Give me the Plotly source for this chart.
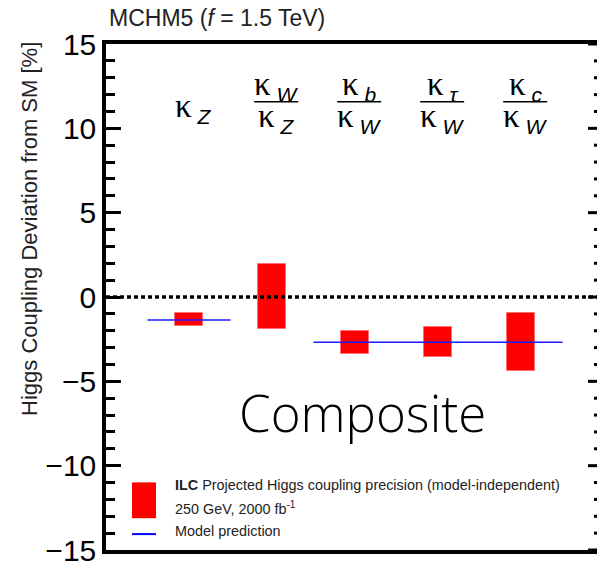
import plotly.graph_objects as go

# ---- data ----
categories = ["kZ", "kW/kZ", "kb/kW", "ktau/kW", "kc/kW"]
numerators = ["Z", "W", "b", "τ", "c"]
denominators = [None, "Z", "W", "W", "W"]
band_low = [-1.73, -1.9, -3.35, -3.53, -4.39]
band_high = [-0.93, 1.95, -2.03, -1.8, -0.93]
model_pred_values = [-1.36, -2.68]
model_pred_spans = [(0.5, 1.5), (2.5, 5.5)]
y_ticks = [-15, -10, -5, 0, 5, 10, 15]

positions = list(range(1, len(categories) + 1))

W, H = 597, 567
ML, MR, MT, MB = 106, 0, 44, 14
PW = W - ML - MR
PH = H - MT - MB
px_per_unit = 83.0
xmax = PW / px_per_unit

def px_x(px):
    return (px - ML) / PW

def px_y(py):
    return (H - MB - py) / PH

fig = go.Figure()

fig.add_trace(go.Bar(
    x=positions,
    y=[h - l for l, h in zip(band_low, band_high)],
    base=band_low,
    width=0.33,
    marker=dict(color="#ff0000", line=dict(color="#ff7070", width=1)),
    showlegend=False,
    hoverinfo="skip",
))

# zero line
fig.add_trace(go.Scatter(
    x=[0, xmax], y=[0, 0], mode="lines",
    line=dict(color="black", width=3.5, dash="4px,3px"),
    showlegend=False, hoverinfo="skip",
))

for (x0, x1), v in zip(model_pred_spans, model_pred_values):
    fig.add_trace(go.Scatter(
        x=[x0, x1], y=[v, v], mode="lines",
        line=dict(color="#1a1aff", width=1.5),
        showlegend=False, hoverinfo="skip",
    ))

annotations = []
shapes = []

KFONT = dict(family="Liberation Serif", size=33, color="black")
SUBSTYLE = "font-family:Liberation Sans;font-style:italic;font-size:21px"

def kappa(sub):
    return f"κ<sub><span style='{SUBSTYLE}'> {sub}</span></sub>"

for pos, num, den in zip(positions, numerators, denominators):
    cx = pos + 0.05
    if den is None:
        annotations.append(dict(x=cx, y=11.2, xref="x", yref="y", text=kappa(num),
                                showarrow=False, font=KFONT, xanchor="center", yanchor="middle"))
    else:
        annotations.append(dict(x=cx, y=12.5, xref="x", yref="y", text=kappa(num),
                                showarrow=False, font=KFONT, xanchor="center", yanchor="middle"))
        annotations.append(dict(x=cx, y=10.6, xref="x", yref="y", text=kappa(den),
                                showarrow=False, font=KFONT, xanchor="center", yanchor="middle"))
        shapes.append(dict(type="line", xref="x", yref="y", x0=cx - 0.265, x1=cx + 0.265,
                           y0=11.58, y1=11.58, line=dict(color="black", width=1.6)))

# title
annotations.append(dict(x=px_x(107), y=px_y(18), xref="paper", yref="paper",
                        text="MCHM5 (<i>f</i> = 1.5 TeV)", showarrow=False,
                        xanchor="left", yanchor="middle",
                        font=dict(family="Liberation Sans", size=23, color="#222222")))
# y axis title
annotations.append(dict(x=px_x(30), y=px_y(230), xref="paper", yref="paper",
                        text="Higgs Coupling Deviation from SM [%]", showarrow=False,
                        textangle=-90, xanchor="center", yanchor="middle",
                        font=dict(family="Liberation Sans", size=22, color="#222222")))
# Composite
annotations.append(dict(x=px_x(362), y=px_y(414), xref="paper", yref="paper",
                        text="Composite", showarrow=False, xanchor="center", yanchor="middle",
                        font=dict(family="Open Sans", size=51, color="black", weight=300)))

# legend
shapes.append(dict(type="rect", xref="paper", yref="paper",
                   x0=px_x(132), x1=px_x(156), y0=px_y(521), y1=px_y(485),
                   fillcolor="#ff0000", line=dict(width=0)))
shapes.append(dict(type="line", xref="paper", yref="paper",
                   x0=px_x(132), x1=px_x(156), y0=px_y(537), y1=px_y(537),
                   line=dict(color="#0000ff", width=2)))
LFONT = dict(family="Liberation Sans", size=14.4, color="#222222")
annotations.append(dict(x=px_x(173), y=px_y(488), xref="paper", yref="paper",
                        text="<b>ILC</b> Projected Higgs coupling precision (model-independent)",
                        showarrow=False, xanchor="left", yanchor="middle", font=LFONT))
annotations.append(dict(x=px_x(173), y=px_y(511), xref="paper", yref="paper",
                        text="250 GeV, 2000 fb<sup>-1</sup>",
                        showarrow=False, xanchor="left", yanchor="middle", font=LFONT))
annotations.append(dict(x=px_x(173), y=px_y(534), xref="paper", yref="paper",
                        text="Model prediction",
                        showarrow=False, xanchor="left", yanchor="middle", font=LFONT))

# right-side ticks (mirror axis lies just outside the picture)
for t in range(-15, 16):
    length = 9 if t % 5 == 0 else 3
    shapes.append(dict(type="line", xref="paper", yref="y",
                       x0=px_x(W - length), x1=1.0, y0=t, y1=t,
                       line=dict(color="black", width=3)))

fig.update_layout(
    width=W, height=H,
    margin=dict(l=ML, r=MR, t=MT, b=MB),
    paper_bgcolor="white", plot_bgcolor="white",
    annotations=annotations, shapes=shapes,
    showlegend=False,
    bargap=0,
)
fig.update_xaxes(range=[0, xmax], showticklabels=False, ticks="", showgrid=False,
                 zeroline=False, showline=True, linecolor="black", linewidth=3.5,
                 mirror=True)
fig.update_yaxes(range=[-15, 15], tickvals=y_ticks, ticks="inside", ticklen=15,
                 tickwidth=3, tickcolor="black", showgrid=False, zeroline=False,
                 showline=True, linecolor="black", linewidth=3.5,
                 ticklabeloverflow="allow",
                 tickfont=dict(family="Liberation Sans", size=30, color="black"),
                 minor=dict(dtick=1, tick0=0, ticks="inside", ticklen=9,
                            tickwidth=3, tickcolor="black", showgrid=False))

fig.write_html("out.html", config={"displayModeBar": False},
               post_script="document.body.style.margin='0';")
